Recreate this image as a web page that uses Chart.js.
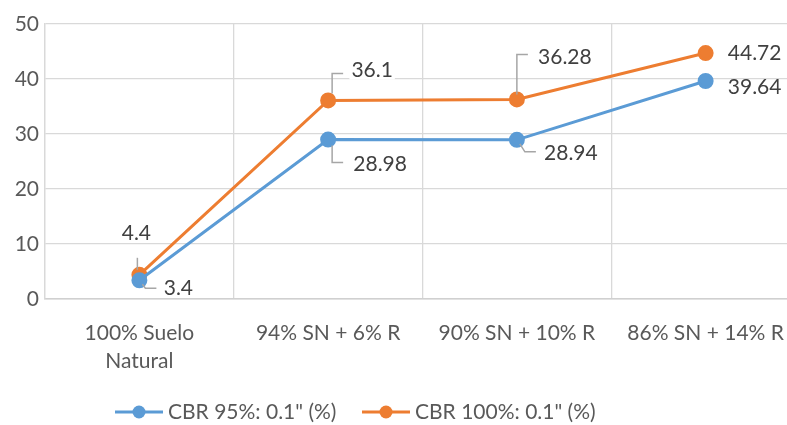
<!DOCTYPE html>
<html>
<head>
<meta charset="utf-8">
<script src="https://cdn.jsdelivr.net/npm/chart.js@4"></script>
<style>
  html, body { margin: 0; padding: 0; background: #fff; overflow: hidden; }
  #wrap { width: 812px; height: 425px; }
</style>
</head>
<body>
<div id="wrap"><canvas id="myChart"></canvas></div>
<script>
const categories = [['100% Suelo', 'Natural'], '94% SN + 6% R', '90% SN + 10% R', '86% SN + 14% R'];
const cbr95 = [3.4, 28.98, 28.94, 39.64];
const cbr100 = [4.4, 36.1, 36.28, 44.72];
const seriesNames = ['CBR 95%: 0.1" (%)', 'CBR 100%: 0.1" (%)'];
const yTicks = [0, 10, 20, 30, 40, 50];

const blue = '#5B9BD5';
const orange = '#ED7D31';
const fontFamily = 'Lato, "Liberation Sans", sans-serif';
const fontSize = 21;

// where each value label sits relative to its point, plus leader line bends
const labelPlacement = [
    [
        { dx: 39, dy: 8, leader: [[3, 4], [6, 8], [17, 8]] },
        { dx: 52, dy: 25, leader: [[4, 6], [4, 23], [15, 23]] },
        { dx: 54, dy: 13, leader: [[3, 4], [8, 12], [19, 12]] },
        { dx: 49, dy: 6, leader: null },
    ],
    [
        { dx: -3, dy: -42, leader: [[-2, -5], [-2, -17]] },
        { dx: 44, dy: -30, leader: [[4, -7], [4, -27], [15, -27]] },
        { dx: 48, dy: -42, leader: [[0, -5], [0, -45], [11, -45]] },
        { dx: 49, dy: 0, leader: null },
    ],
];

const valueLabels = {
    id: 'valueLabels',
    afterDatasetsDraw(chart) {
        const ctx = chart.ctx;
        ctx.save();
        ctx.font = fontSize + 'px ' + fontFamily;
        ctx.textAlign = 'center';
        ctx.textBaseline = 'middle';
        chart.data.datasets.forEach((ds, i) => {
            const meta = chart.getDatasetMeta(i);
            meta.data.forEach((pt, j) => {
                const place = labelPlacement[i][j];
                if (place.leader) {
                    ctx.strokeStyle = '#A6A6A6';
                    ctx.lineWidth = 1.5;
                    ctx.beginPath();
                    place.leader.forEach(([lx, ly], k) => {
                        if (k === 0) ctx.moveTo(pt.x + lx, pt.y + ly);
                        else ctx.lineTo(pt.x + lx, pt.y + ly);
                    });
                    ctx.stroke();
                }
                const text = String(ds.data[j]);
                const x = pt.x + place.dx;
                const y = pt.y + place.dy;
                if (i === 1) {
                    const w = ctx.measureText(text).width;
                    ctx.fillStyle = '#fff';
                    ctx.fillRect(x - w / 2 - 2, y - 9, w + 4, 18);
                }
                ctx.fillStyle = '#404040';
                ctx.fillText(text, x, y);
            });
        });
        ctx.restore();
    }
};

// legend entries: short line with a dot, then the series name
const legendStarts = [115, 362];
const lineLegend = {
    id: 'lineLegend',
    afterDraw(chart) {
        const ctx = chart.ctx;
        const colors = [blue, orange];
        const y = 412;
        ctx.save();
        ctx.font = fontSize + 'px ' + fontFamily;
        ctx.textBaseline = 'middle';
        ctx.textAlign = 'left';
        seriesNames.forEach((name, i) => {
            const x = legendStarts[i];
            ctx.strokeStyle = colors[i];
            ctx.lineWidth = 3;
            ctx.beginPath();
            ctx.moveTo(x, y);
            ctx.lineTo(x + 48, y);
            ctx.stroke();
            ctx.fillStyle = colors[i];
            ctx.beginPath();
            ctx.arc(x + 24, y, 6.5, 0, Math.PI * 2);
            ctx.fill();
            ctx.fillStyle = '#595959';
            ctx.fillText(name, x + 53, y);
        });
        ctx.restore();
    }
};

new Chart(document.querySelector('#myChart'), {
    type: 'line',
    data: {
        labels: categories,
        datasets: [
            {
                label: seriesNames[0],
                data: cbr95,
                borderColor: blue,
                backgroundColor: blue,
                borderWidth: 3,
                pointRadius: 6.5,
                pointHoverRadius: 6.5,
                tension: 0,
            },
            {
                label: seriesNames[1],
                data: cbr100,
                borderColor: orange,
                backgroundColor: orange,
                borderWidth: 3,
                pointRadius: 6.5,
                pointHoverRadius: 6.5,
                tension: 0,
            },
        ]
    },
    options: {
        responsive: true,
        maintainAspectRatio: false,
        animation: false,
        layout: { padding: { top: 24, right: 12, bottom: 0, left: 0 } },
        plugins: {
            legend: { display: false },
            tooltip: { enabled: false },
        },
        scales: {
            x: {
                offset: true,
                grid: { offset: true, color: '#D9D9D9', lineWidth: 1.3, drawTicks: false },
                border: { color: '#D0D0D0', width: 1.5 },
                ticks: {
                    color: '#595959',
                    font: { family: fontFamily, size: fontSize, lineHeight: 1.33 },
                    padding: 20,
                    maxRotation: 0,
                },
                afterFit(scale) { scale.height = 126; },
            },
            y: {
                min: 0,
                max: 50,
                afterBuildTicks(scale) { scale.ticks = yTicks.map(v => ({ value: v })); },
                grid: { color: '#D9D9D9', lineWidth: 1.3, drawTicks: false },
                border: { color: '#D9D9D9', width: 1.3 },
                ticks: {
                    color: '#595959',
                    font: { family: fontFamily, size: fontSize },
                    padding: 6,
                },
                afterFit(scale) { scale.width = 45; },
            },
        },
    },
    plugins: [valueLabels, lineLegend],
});
</script>
</body>
</html>
